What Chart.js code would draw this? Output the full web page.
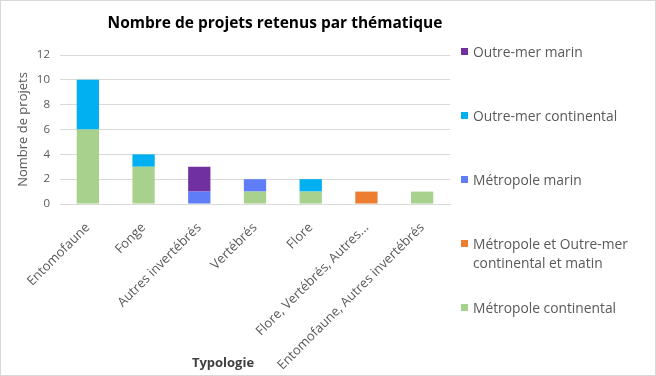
<!DOCTYPE html>
<html><head><meta charset="utf-8">
<script src="https://cdn.jsdelivr.net/npm/chart.js@4.4.1/dist/chart.umd.min.js"></script>
<style>
html,body{margin:0;padding:0;background:#fff;}
#wrap{position:relative;width:656px;height:376px;overflow:hidden;}
#wrap:after{content:"";position:absolute;left:0;top:0;right:0;bottom:0;border:1px solid #d9d9d9;pointer-events:none;}
canvas{position:absolute;left:0;top:0;}
#title{position:absolute;left:0;width:550px;top:11px;text-align:center;font:bold 15.5px "Open Sans",sans-serif;color:#000;}
#xtitle{position:absolute;left:173px;width:100px;top:353px;text-align:center;font:bold 13px "Open Sans",sans-serif;color:#404040;}
#legend{position:absolute;left:460px;top:0;font:13.8px "Open Sans",sans-serif;color:#595959;}
.li{position:absolute;left:0;white-space:nowrap;line-height:19px;}
.sw{position:absolute;left:1px;top:6px;width:7px;height:7px;}
.tx{position:absolute;left:13px;top:0;}
</style></head><body>
<div id="wrap"><canvas id="c" width="656" height="376"></canvas>
<div id="title">Nombre de projets retenus par thématique</div>
<div id="xtitle">Typologie</div>
<div id="legend"></div></div>
<script>
const categories = ['Entomofaune','Fonge','Autres invertébrés','Vertébrés','Flore','Flore, Vertébrés, Autres...','Entomofaune, Autres invertébrés'];
const metropoleContinental = [6,3,0,1,1,0,1];
const metropoleOutremer = [0,0,0,0,0,1,0];
const metropoleMarin = [0,0,1,1,0,0,0];
const outremerContinental = [4,1,0,0,1,0,0];
const outremerMarin = [0,0,2,0,0,0,0];
const yTicks = [0,2,4,6,8,10,12];

const series = [
  {label:'Métropole continental', lines:['Métropole continental'], data:metropoleContinental, color:'#A9D18E'},
  {label:'Métropole et Outre-mer continental et matin', lines:['Métropole et Outre-mer','continental et matin'], data:metropoleOutremer, color:'#ED7D31'},
  {label:'Métropole marin', lines:['Métropole marin'], data:metropoleMarin, color:'#5F7DF6'},
  {label:'Outre-mer continental', lines:['Outre-mer continental'], data:outremerContinental, color:'#00B0F0'},
  {label:'Outre-mer marin', lines:['Outre-mer marin'], data:outremerMarin, color:'#7030A0'}
];

new Chart(document.getElementById('c'), {
  type:'bar',
  data:{labels:categories, datasets:series.map(s=>({label:s.label,data:s.data,backgroundColor:s.color,borderWidth:0,categoryPercentage:1,barPercentage:0.4}))},
  options:{
    responsive:false, animation:false,
    layout:{padding:{top:55,right:206,left:0,bottom:4}},
    plugins:{legend:{display:false},tooltip:{enabled:false}},
    scales:{
      x:{stacked:true,
        grid:{display:false},
        border:{display:true,color:'#d9d9d9'},
        ticks:{color:'#595959',font:{family:'Open Sans',size:13},maxRotation:45,minRotation:45,padding:8},
        afterFit(s){s.height=168;}
      },
      y:{stacked:true,min:0,max:12,
        afterBuildTicks(s){s.ticks=yTicks.map(v=>({value:v}));},
        grid:{color:'#d9d9d9',drawTicks:false},
        border:{display:false},
        ticks:{color:'#595959',font:{family:'Open Sans',size:11.5},padding:10},
        title:{display:true,text:'Nombre de projets',color:'#595959',font:{family:'Open Sans',size:13},padding:{top:15,bottom:0}},
        afterFit(s){s.width=60;}
      }
    }
  }
});

const legendPos = [{i:4,y:42},{i:3,y:106},{i:2,y:170},{i:1,y:234},{i:0,y:298}];
const lg = document.getElementById('legend');
legendPos.forEach(p=>{
  const s = series[p.i];
  const d = document.createElement('div'); d.className='li'; d.style.top=p.y+'px';
  d.innerHTML = '<span class="sw" style="background:'+s.color+'"></span><span class="tx">'+s.lines.join('<br>')+'</span>';
  lg.appendChild(d);
});
</script></body></html>
